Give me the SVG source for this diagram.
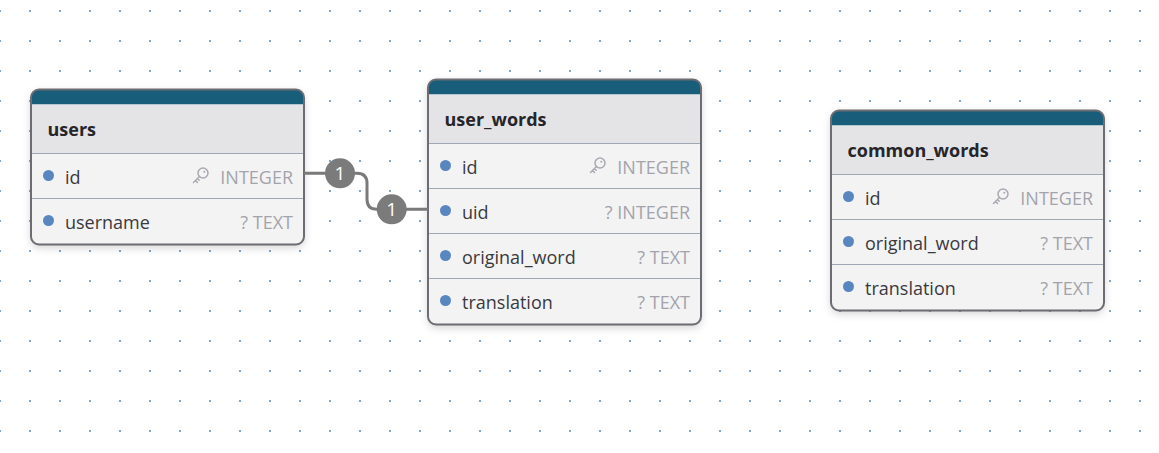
<svg xmlns="http://www.w3.org/2000/svg" width="1159" height="453" viewBox="0 0 1159 453">
  <defs>
    <pattern id="grid" patternUnits="userSpaceOnUse" x="-15" y="-4" width="30" height="30">
      <rect x="14" y="14" width="2" height="2" fill="#7fa6c8"/>
    </pattern>
    <filter id="shadow" x="-10%" y="-10%" width="120%" height="125%">
      <feDropShadow dx="0" dy="3" stdDeviation="4" flood-color="#000" flood-opacity="0.18"/>
    </filter>
    <g id="key" fill="none" stroke="#a9a9b1" stroke-width="1.5" stroke-linecap="round" stroke-linejoin="round">
      <circle cx="0" cy="0" r="5"/>
      <circle cx="1.3" cy="-1.3" r="1" fill="#a9a9b1" stroke="none"/>
      <path d="M-3.5,3.5 L-9.5,9.5 M-7.5,7.5 L-5.5,9.5 M-5.5,5.5 L-3.8,7.2"/>
    </g>
  </defs>
  <style>
    .bg { fill: #ffffff; }
    .body { fill: #f3f3f4; }
    .band { fill: #185e7a; }
    .head { fill: #e4e4e7; }
    .border { fill: none; stroke: #6c6c73; stroke-width: 2; }
    .sep { stroke: #9fa7b5; stroke-width: 1; }
    .title { font-family: "Open Sans", "Noto Sans", sans-serif; font-weight: bold; font-size: 18px; fill: #26262a; }
    .name { font-family: "Open Sans", "Noto Sans", sans-serif; font-size: 18px; fill: #3a3a3e; }
    .type { font-family: "Open Sans", "Noto Sans", sans-serif; font-size: 18px; fill: #a3a3ab; text-anchor: end; }
    .dot { fill: #5a86bf; }
    .conn { fill: none; stroke: #7a7a7a; stroke-width: 3; }
    .badge { fill: #7b7b7b; }
    .badgetxt { font-family: "Open Sans", "Noto Sans", sans-serif; font-size: 19px; fill: #ffffff; text-anchor: middle; }
  </style>
  <rect class="bg" x="0" y="0" width="1159" height="453"/>
  <rect x="0" y="0" width="1159" height="453" fill="url(#grid)"/>

  <g id="users" transform="translate(31,89.5)">
    <rect class="body" x="0" y="0" width="273" height="155" rx="8" filter="url(#shadow)"/>
    <path class="band" d="M0,8 A8,8 0 0 1 8,0 H265 A8,8 0 0 1 273,8 V15 H0 Z"/>
    <rect class="head" x="0" y="15" width="273" height="49"/>
    <line class="sep" x1="0" y1="64" x2="273" y2="64"/>
    <line class="sep" x1="0" y1="109" x2="273" y2="109"/>
    <rect class="border" x="0" y="0" width="273" height="155" rx="8"/>
    <text class="title" x="16.5" y="46.5">users</text>
    <circle class="dot" cx="17.5" cy="86" r="5.5"/>
    <text class="name" x="34" y="94.5">id</text>
    <use href="#key" x="172" y="83.5"/>
    <text class="type" x="262" y="94.5">INTEGER</text>
    <circle class="dot" cx="17.5" cy="131" r="5.5"/>
    <text class="name" x="34" y="139.5">username</text>
    <text class="type" x="262" y="139.5">? TEXT</text>
  </g>

  <g id="user_words" transform="translate(428,79.5)">
    <rect class="body" x="0" y="0" width="273" height="245" rx="8" filter="url(#shadow)"/>
    <path class="band" d="M0,8 A8,8 0 0 1 8,0 H265 A8,8 0 0 1 273,8 V15 H0 Z"/>
    <rect class="head" x="0" y="15" width="273" height="49"/>
    <line class="sep" x1="0" y1="64" x2="273" y2="64"/>
    <line class="sep" x1="0" y1="109" x2="273" y2="109"/>
    <line class="sep" x1="0" y1="154" x2="273" y2="154"/>
    <line class="sep" x1="0" y1="199" x2="273" y2="199"/>
    <rect class="border" x="0" y="0" width="273" height="245" rx="8"/>
    <text class="title" x="16.5" y="46.5">user_words</text>
    <circle class="dot" cx="17.5" cy="86" r="5.5"/>
    <text class="name" x="34" y="94.5">id</text>
    <use href="#key" x="172" y="83.5"/>
    <text class="type" x="262" y="94.5">INTEGER</text>
    <circle class="dot" cx="17.5" cy="131" r="5.5"/>
    <text class="name" x="34" y="139.5">uid</text>
    <text class="type" x="262" y="139.5">? INTEGER</text>
    <circle class="dot" cx="17.5" cy="176" r="5.5"/>
    <text class="name" x="34" y="184.5">original_word</text>
    <text class="type" x="262" y="184.5">? TEXT</text>
    <circle class="dot" cx="17.5" cy="221" r="5.5"/>
    <text class="name" x="34" y="229.5">translation</text>
    <text class="type" x="262" y="229.5">? TEXT</text>
  </g>

  <g id="common_words" transform="translate(831,110.5)">
    <rect class="body" x="0" y="0" width="273" height="200" rx="8" filter="url(#shadow)"/>
    <path class="band" d="M0,8 A8,8 0 0 1 8,0 H265 A8,8 0 0 1 273,8 V15 H0 Z"/>
    <rect class="head" x="0" y="15" width="273" height="49"/>
    <line class="sep" x1="0" y1="64" x2="273" y2="64"/>
    <line class="sep" x1="0" y1="109" x2="273" y2="109"/>
    <line class="sep" x1="0" y1="154" x2="273" y2="154"/>
    <rect class="border" x="0" y="0" width="273" height="200" rx="8"/>
    <text class="title" x="16.5" y="46.5">common_words</text>
    <circle class="dot" cx="17.5" cy="86" r="5.5"/>
    <text class="name" x="34" y="94.5">id</text>
    <use href="#key" x="172" y="83.5"/>
    <text class="type" x="262" y="94.5">INTEGER</text>
    <circle class="dot" cx="17.5" cy="131" r="5.5"/>
    <text class="name" x="34" y="139.5">original_word</text>
    <text class="type" x="262" y="139.5">? TEXT</text>
    <circle class="dot" cx="17.5" cy="176" r="5.5"/>
    <text class="name" x="34" y="184.5">translation</text>
    <text class="type" x="262" y="184.5">? TEXT</text>
  </g>

  <g id="connectors">
    <path class="conn" d="M304,173.3 H357 Q367,173.3 367,183.3 V199.3 Q367,209.3 377,209.3 H428"/>
    <circle class="badge" cx="340" cy="173.3" r="15"/>
    <text class="badgetxt" x="340" y="180">1</text>
    <circle class="badge" cx="391.7" cy="209.3" r="15"/>
    <text class="badgetxt" x="391.7" y="216">1</text>
  </g>
</svg>
